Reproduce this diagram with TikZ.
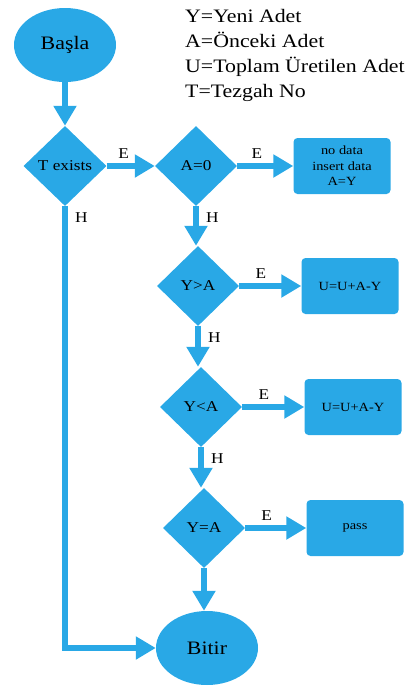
\documentclass[tikz,border=0pt]{standalone}
\usepackage{fontspec}
\setmainfont{Liberation Serif}[FakeStretch=1.15]
\usetikzlibrary{shapes.geometric,arrows.meta}
\definecolor{flowblue}{RGB}{41,168,230}
\begin{document}
\begin{tikzpicture}[x=1pt,y=-1pt,
  terminal/.style={ellipse,fill=flowblue,minimum width=102pt,minimum height=74pt,inner sep=0pt,font=\fontsize{19}{22}\selectfont},
  decision/.style={diamond,fill=flowblue,minimum width=82pt,minimum height=80pt,inner sep=0pt,font=\fontsize{15}{18}\selectfont},
  process/.style={rectangle,rounded corners=4pt,fill=flowblue,minimum width=97pt,minimum height=56pt,align=center,font=\fontsize{12.5}{15.5}\selectfont},
  flow/.style={flowblue,line width=6pt,-{Triangle[length=20pt,width=22pt]}},
  elabel/.style={above=1pt,pos=0.35,black,font=\fontsize{15}{17}\selectfont},
  hlabel/.style={pos=0,anchor=north west,xshift=6pt,yshift=-2pt,inner sep=1pt,black,font=\fontsize{15}{17}\selectfont},
  legend/.style={anchor=base west,inner sep=0pt,font=\fontsize{19}{25}\selectfont}]
  \useasboundingbox (0,0) rectangle (417,686);
  \node[terminal] (basla) at (65,45) {Başla};
  \node[decision,minimum width=83pt] (texists) at (65,166) {T exists};
  \node[decision] (azero) at (196,166) {A=0};
  \node[process] (insert) at (342,166) {no data\\insert data\\A=Y};
  \node[decision] (ygta) at (198,286) {Y>A};
  \node[process] (addone) at (350,286) {U=U+A-Y};
  \node[decision] (ylta) at (201,407) {Y<A};
  \node[process] (addtwo) at (353,407) {U=U+A-Y};
  \node[decision] (yeqa) at (204,528) {Y=A};
  \node[process] (pass) at (355,528) {pass};
  \node[terminal] (bitir) at (207,648) {Bitir};
  \foreach \txt [count=\i] in {Y=Yeni Adet,A=Önceki Adet,U=Toplam Üretilen Adet,T=Tezgah No}
    \node[legend] (leg\i) at (185,-3+25*\i) {\txt};
  \draw[flow] (basla) -- (texists);
  \draw[flow] (texists) -- node[elabel] {E} (azero);
  \draw[flow] (azero) -- node[elabel] {E} (insert);
  \draw[flow] (ygta) -- node[elabel] {E} (addone);
  \draw[flow] (ylta) -- node[elabel] {E} (addtwo);
  \draw[flow] (yeqa) -- node[elabel] {E} (pass);
  \draw[flow] (texists.south) |- node[hlabel] {H} (bitir.west);
  \draw[flow] (azero.south) -- node[hlabel] {H} (azero.south |- ygta.north);
  \draw[flow] (ygta.south) -- node[hlabel] {H} (ygta.south |- ylta.north);
  \draw[flow] (ylta.south) -- node[hlabel] {H} (ylta.south |- yeqa.north);
  \draw[flow] (yeqa.south) -- (yeqa.south |- bitir.north);
\end{tikzpicture}
\end{document}
